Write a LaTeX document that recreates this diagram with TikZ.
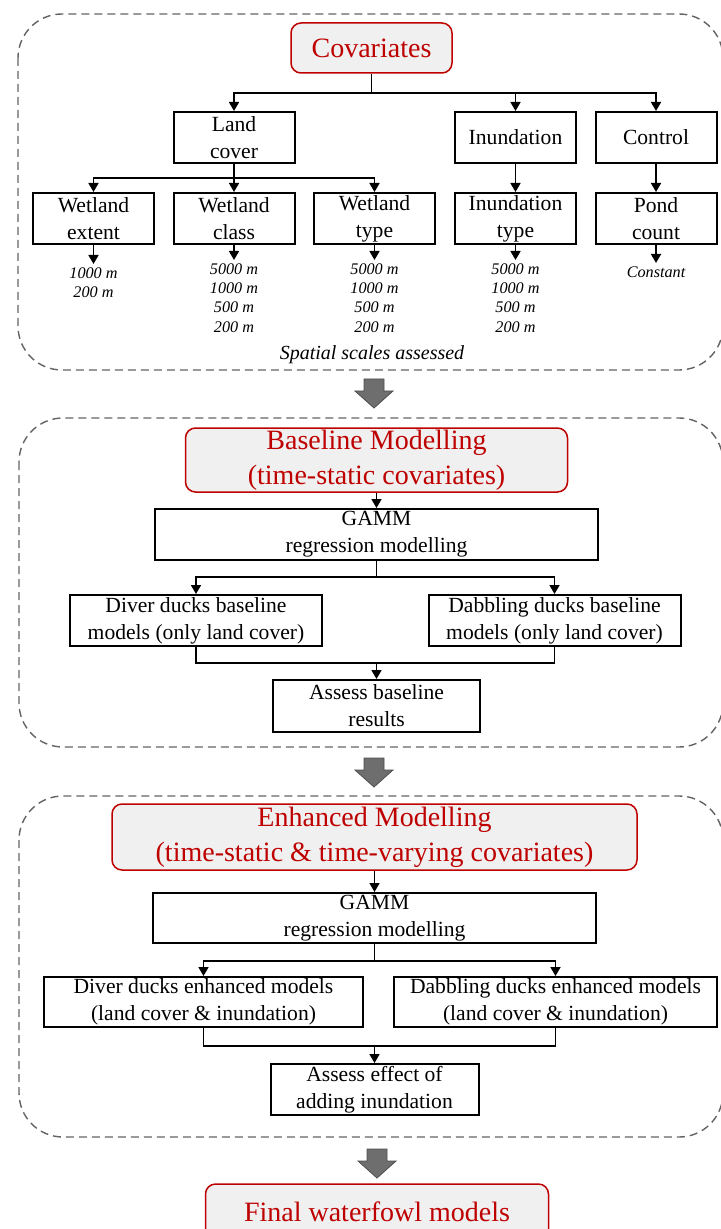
\documentclass[tikz,border=0pt]{standalone}
\usepackage{fontspec}
\setmainfont{Liberation Serif}
\usetikzlibrary{arrows.meta}
\definecolor{darkred}{RGB}{190,0,0}
\definecolor{titlefill}{RGB}{240,240,240}
\definecolor{dashgray}{RGB}{100,100,100}
\definecolor{blockgray}{RGB}{110,110,110}
\tikzset{
  box/.style={draw, line width=1pt, align=center, inner sep=0pt, font=\fontsize{10.8}{13.5}\selectfont},
  title/.style={draw=darkred, fill=titlefill, line width=0.75pt, rounded corners=5pt, text=darkred, align=center, inner sep=0pt, font=\fontsize{14}{17.5}\selectfont},
  arr/.style={line width=0.85pt, -{Triangle[length=4.5pt,width=5pt]}},
  ln/.style={line width=0.85pt},
  scales/.style={align=center, anchor=north, inner sep=0pt, font=\fontsize{8.1}{9.7}\selectfont\itshape},
  section/.style={draw=dashgray, line width=0.7pt, dash pattern=on 4pt off 2.5pt, rounded corners=22pt},
  bigarrow/.style={fill=blockgray, draw=blockgray!70!black, line width=0.4pt}
}
\newcommand{\blockarrow}[2]{%
  \draw[bigarrow] (#1-10,#2) -- (#1+10,#2) -- (#1+10,#2+12) -- (#1+19,#2+12) -- (#1,#2+29) -- (#1-19,#2+12) -- (#1-10,#2+12) -- cycle;}

\begin{document}
\begin{tikzpicture}[x=0.5pt, y=-0.5pt]
\useasboundingbox (0,0) rectangle (721,1229);

\draw[section] (18,14) rectangle (723,370);
\draw[section] (19,418) rectangle (723,747);
\draw[section] (19,796) rectangle (723,1137);

\blockarrow{374}{379}
\blockarrow{374}{758}
\blockarrow{377}{1149}

\node[title, minimum width=80.5pt, minimum height=25pt] (cov) at (371.5,48) {Covariates};

\node[box, minimum width=60.5pt, minimum height=25.5pt] (land) at (234,137.5) {Land\\cover};
\node[box, minimum width=60.5pt, minimum height=25.5pt] (inund) at (515.5,137.5) {Inundation};
\node[box, minimum width=60.5pt, minimum height=25.5pt] (ctrl) at (656,137.5) {Control};

\node[box, minimum width=60.5pt, minimum height=25.5pt] (ext) at (93.5,218.5) {Wetland\\extent};
\node[box, minimum width=60.5pt, minimum height=25.5pt] (cls) at (234,218.5) {Wetland\\class};
\node[box, minimum width=60.5pt, minimum height=25.5pt] (typ) at (374.5,218.5) {Wetland\\type};
\node[box, minimum width=60.5pt, minimum height=25.5pt] (inty) at (515.5,218.5) {Inundation\\type};
\node[box, minimum width=60.5pt, minimum height=25.5pt] (pond) at (656,218.5) {Pond\\count};

\coordinate (c1) at (371.5,93);
\draw[ln] (cov) -- (c1);
\draw[arr] (c1) -| (land);
\draw[arr] (c1) -| (inund);
\draw[arr] (c1) -| (ctrl);

\coordinate (c2) at (234,178);
\draw[ln] (land) -- (c2);
\draw[arr] (c2) -| (ext);
\draw[arr] (c2) -- (cls);
\draw[arr] (c2) -| (typ);
\draw[arr] (inund) -- (inty);
\draw[arr] (ctrl) -- (pond);

\node[scales] (sext) at (93.5,267) {1000 m\\200 m};
\node[scales] (scls) at (234,263) {5000 m\\1000 m\\500 m\\200 m};
\node[scales] (styp) at (374.5,263) {5000 m\\1000 m\\500 m\\200 m};
\node[scales] (sinty) at (515.5,263) {5000 m\\1000 m\\500 m\\200 m};
\node[scales] (spond) at (656,266) {Constant};
\foreach \n in {ext,cls,typ,inty,pond}
  \draw[arr, shorten >=1.5pt] (\n) -- (s\n);

\node[font=\fontsize{10}{12}\selectfont\itshape] (spatial) at (372,355) {Spatial scales assessed};

\node[title, minimum width=191pt, minimum height=32pt] (base) at (376.5,460) {Baseline Modelling\\(time-static covariates)};
\node[box, minimum width=221.5pt, minimum height=25.5pt] (gamma) at (376.5,534.5) {GAMM\\regression modelling};
\node[box, minimum width=126pt, minimum height=25.5pt] (diva) at (196,620.5) {Diver ducks baseline\\models (only land cover)};
\node[box, minimum width=126pt, minimum height=25.5pt] (daba) at (554.5,620.5) {Dabbling ducks baseline\\models (only land cover)};
\node[box, minimum width=103.5pt, minimum height=26pt] (assa) at (376.5,706) {Assess baseline\\results};

\draw[arr] (base) -- (gamma);
\coordinate (c3) at (376.5,577);
\draw[ln] (gamma) -- (c3);
\draw[arr] (c3) -| (diva);
\draw[arr] (c3) -| (daba);
\coordinate (c4) at (376.5,663);
\draw[ln] (diva) |- (c4) -| (daba);
\draw[arr] (c4) -- (assa);

\node[title, minimum width=262.5pt, minimum height=33pt] (enh) at (374.5,837) {Enhanced Modelling\\(time-static \& time-varying covariates)};
\node[box, minimum width=221.5pt, minimum height=25pt] (gammb) at (374.5,918) {GAMM\\regression modelling};
\node[box, minimum width=159.5pt, minimum height=25pt] (divb) at (203.5,1002) {Diver ducks enhanced models\\(land cover \& inundation)};
\node[box, minimum width=161.5pt, minimum height=25pt] (dabb) at (555.5,1002) {Dabbling ducks enhanced models\\(land cover \& inundation)};
\node[box, minimum width=104pt, minimum height=25.5pt] (assb) at (374.5,1089.5) {Assess effect of\\adding inundation};

\draw[arr] (enh) -- (gammb);
\coordinate (c5) at (374.5,961);
\draw[ln] (gammb) -- (c5);
\draw[arr] (c5) -| (divb);
\draw[arr] (c5) -| (dabb);
\coordinate (c6) at (374.5,1046);
\draw[ln] (divb) |- (c6) -| (dabb);
\draw[arr] (c6) -- (assb);

\node[title, minimum width=171.5pt, minimum height=28pt] (final) at (377,1212) {Final waterfowl models};
\end{tikzpicture}
\end{document}
